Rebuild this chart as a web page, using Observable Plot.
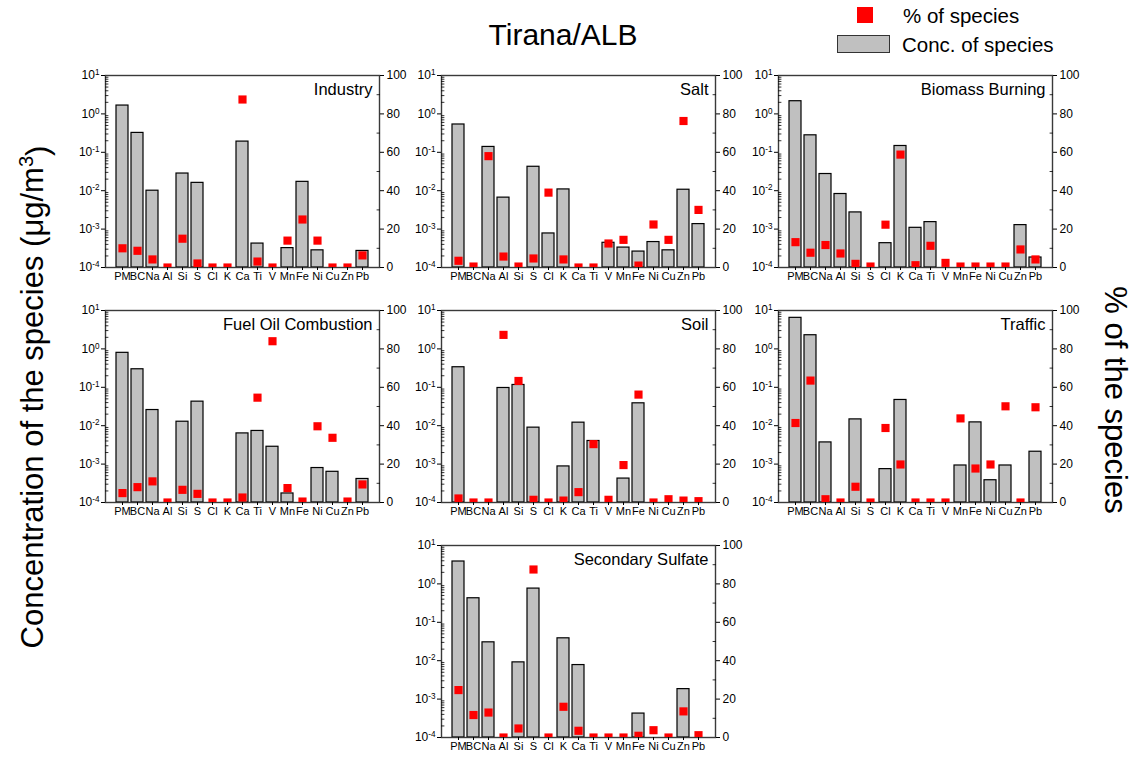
<!DOCTYPE html>
<html>
<head>
<meta charset="utf-8">
<script src="https://cdn.jsdelivr.net/npm/d3@7"></script>
<script src="https://cdn.jsdelivr.net/npm/@observablehq/plot@0.6"></script>
<style>
  body { margin: 0; background: #fff; font-family: "Liberation Sans", Arial, sans-serif; }
  #fig { position: relative; width: 1138px; height: 759px; overflow: hidden; background: #fff; }
  .layer { position: absolute; }
  .layer svg { position: absolute; left: 0; top: 0; overflow: visible; }
  #labels { position: absolute; left: 0; top: 0; }
</style>
</head>
<body>
<div id="fig"></div>
<script>
// Species measured at Tirana
const species = ["PM","BC","Na","Al","Si","S","Cl","K","Ca","Ti","V","Mn","Fe","Ni","Cu","Zn","Pb"];

// Concentration of species per factor (µg/m³); null = not resolved
const industryConc = [1.65, 0.32, 0.010, null, 0.028, 0.016, null, null, 0.19, 4.2e-4, null, 3.2e-4, 0.017, 2.8e-4, null, null, 2.7e-4];
const saltConc     = [0.53, null, 0.138, 0.0066, null, 0.042, 7.7e-4, 0.0108, null, null, 4.4e-4, 3.3e-4, 2.6e-4, 4.6e-4, 2.8e-4, 0.0106, 1.35e-3];
const biomassConc  = [2.14, 0.277, 0.0272, 0.0082, 0.00272, null, 4.3e-4, 0.146, 1.08e-3, 1.52e-3, null, null, null, null, null, 1.27e-3, 1.82e-4];
const fuelOilConc  = [0.79, 0.295, 0.0256, null, 0.0127, 0.0423, null, null, 0.0063, 0.0073, 0.00283, 1.72e-4, null, 7.9e-4, 6.3e-4, null, 4.1e-4];
const soilConc     = [0.333, null, null, 0.096, 0.115, 0.0089, null, 8.7e-4, 0.012, 0.004, null, 4.2e-4, 0.0383, null, null, null, null];
const trafficConc  = [6.44, 2.27, 0.00367, null, 0.0146, null, 7.4e-4, 0.0468, null, null, null, 9.2e-4, 0.0122, 3.8e-4, 9.2e-4, null, 0.0021];
const sulfateConc  = [3.83, 0.423, 0.0301, null, 0.00905, 0.755, null, 0.0383, 0.0077, null, null, null, 4.2e-4, null, null, 1.82e-3, null];

// Share of each species explained by the factor (%)
const industryPct = [10, 8.7, 4.2, 0, 15, 2.1, 0, 0, 87.5, 3.1, 0, 14, 25, 14, 0, 0, 6.3];
const saltPct     = [3.5, 0.5, 58, 5.7, 0.5, 4.7, 39, 4.2, 0, 0, 12.5, 14.4, 1, 22.4, 14.4, 76.3, 30];
const biomassPct  = [13.2, 7.7, 11.7, 7.3, 1.9, 0.5, 22.3, 58.8, 1.2, 11.3, 2.4, 0.5, 0.5, 0.5, 0.5, 9.4, 4.2];
const fuelOilPct  = [4.9, 8, 11, 0, 6.6, 4.5, 0, 0, 2.6, 54.6, 84, 7.5, 0.5, 39.7, 33.7, 0.5, 9.4];
const soilPct     = [2.1, 0, 0, 87.3, 63.3, 1.4, 0, 1, 5.4, 30.4, 1.4, 19.5, 56.2, 0, 1.7, 1, 0.7];
const trafficPct  = [41.4, 63.5, 1.7, 0, 8.2, 0, 38.8, 19.8, 0, 0, 0, 43.8, 17.7, 19.8, 50.1, 0, 49.6];
const sulfatePct  = [24.7, 11.7, 13, 0, 4.7, 87.5, 0, 16, 3.5, 0, 0, 0, 0.9, 3.8, 0, 13.6, 1.2];

const factorNames = ["Industry", "Salt", "Biomass Burning", "Fuel Oil Combustion", "Soil", "Traffic", "Secondary Sulfate"];

// Axis ticks
const logTicks = [1e-4, 1e-3, 1e-2, 1e-1, 1, 10];
const logMinor = logTicks.slice(0, -1).flatMap(d => d3.range(2, 10).map(k => k * d));
const pctTicks = [0, 20, 40, 60, 80, 100];
const pctMinor = [10, 30, 50, 70, 90];

const panels = [
  {title: factorNames[0], conc: industryConc, pct: industryPct, col: 0, row: 0},
  {title: factorNames[1], conc: saltConc,     pct: saltPct,     col: 1, row: 0},
  {title: factorNames[2], conc: biomassConc,  pct: biomassPct,  col: 2, row: 0},
  {title: factorNames[3], conc: fuelOilConc,  pct: fuelOilPct,  col: 0, row: 1},
  {title: factorNames[4], conc: soilConc,     pct: soilPct,     col: 1, row: 1},
  {title: factorNames[5], conc: trafficConc,  pct: trafficPct,  col: 2, row: 1},
  {title: factorNames[6], conc: sulfateConc,  pct: sulfatePct,  col: 1, row: 2}
];

// Panel geometry
const FW = 274, FH = 192;
const ML = 50, MR = 40, MT = 10, MB = 26;
const frameLeft = [104.5, 441, 777.5];
const frameTop = [75, 310, 545];
const FONT = '"Liberation Sans", Arial, sans-serif';

const fig = document.getElementById("fig");

// a short straight tick for Plot.vector
const tickShape = {draw(context, l) { context.moveTo(0, 0); context.lineTo(0, -l); }};

function expFormat(d) { return "10^" + Math.round(Math.log10(d)); }

// turns "10^e" tick labels into a base with a raised exponent
function raiseExponents(svg) {
  d3.select(svg).selectAll('g[aria-label="y-axis tick label"] text').each(function() {
    const t = this.textContent;
    if (!t.includes("^")) return;
    const [b, e] = t.split("^");
    const sel = d3.select(this);
    sel.text(null);
    sel.append("tspan").text(b);
    sel.append("tspan").attr("dy", "-0.5em").attr("font-size", "0.68em").text(e);
  });
}

for (const p of panels) {
  const rows = species.map((s, i) => ({s, c: p.conc[i], p: p.pct[i]}));
  const xOpt = {type: "band", domain: species, paddingInner: 0.17, paddingOuter: 0.6, label: null};
  const common = {
    width: ML + FW + MR, height: MT + FH + MB,
    marginLeft: ML, marginRight: MR, marginTop: MT, marginBottom: MB,
    style: {background: "transparent", overflow: "visible", fontFamily: FONT, color: "#000"}
  };

  const layer = document.createElement("div");
  layer.className = "layer";
  layer.style.left = (frameLeft[p.col] - ML) + "px";
  layer.style.top = (frameTop[p.row] - MT) + "px";
  layer.style.width = common.width + "px";
  layer.style.height = common.height + "px";

  // concentrations: bars on a log scale, left axis
  const bars = Plot.plot({
    ...common,
    x: xOpt,
    y: {type: "log", domain: [1e-4, 10], label: null},
    marks: [
      Plot.barY(rows.filter(d => d.c != null), {x: "s", y1: 1e-4, y2: "c", fill: "#c0c0c0", stroke: "#000", strokeWidth: 1.2}),
      Plot.frame({stroke: "#3a3a3a", strokeWidth: 1.4}),
      Plot.axisY(logTicks, {anchor: "left", tickSize: 4, tickPadding: 2, tickFormat: expFormat, fontSize: 12, label: null}),
      Plot.vector(logMinor, {y: d => d, frameAnchor: "left", length: 2.5, rotate: 90, anchor: "start", shape: tickShape, stroke: "#000", strokeWidth: 0.8}),
      Plot.axisX({tickSize: 3, tickPadding: 2, fontSize: 11, label: null}),
      Plot.text([p.title], {frameAnchor: "top-right", dx: -7, dy: 19, lineAnchor: "bottom", textAnchor: "end", fontSize: 16.5, fill: "#000"})
    ]
  });
  raiseExponents(bars);

  // shares: red squares on a 0-100 scale, right axis
  const dots = Plot.plot({
    ...common,
    x: {...xOpt, axis: null},
    y: {domain: [0, 100], label: null},
    marks: [
      Plot.dot(rows, {x: "s", y: "p", symbol: "square", r: 4.6, fill: "#ff0000", stroke: "none", clip: true}),
      Plot.axisY(pctTicks, {anchor: "right", tickSize: 4, tickPadding: 3, fontSize: 12, label: null}),
      Plot.vector(pctMinor, {y: d => d, frameAnchor: "right", length: 2.5, rotate: -90, anchor: "start", shape: tickShape, stroke: "#000", strokeWidth: 0.8})
    ]
  });

  layer.appendChild(bars);
  layer.appendChild(dots);
  fig.appendChild(layer);
}

// figure title, legend and shared axis titles
const svg = d3.select(fig).append("svg")
  .attr("id", "labels")
  .attr("width", 1138).attr("height", 759)
  .style("font-family", FONT)
  .style("pointer-events", "none");

svg.append("text").attr("x", 563).attr("y", 45).attr("text-anchor", "middle")
  .attr("font-size", 30).text("Tirana/ALB");

svg.append("rect").attr("x", 857).attr("y", 7).attr("width", 16).attr("height", 16).attr("fill", "#ff0000");
svg.append("text").attr("x", 903).attr("y", 23).attr("font-size", 20.5).text("% of species");
svg.append("rect").attr("x", 837.5).attr("y", 35.5).attr("width", 52).attr("height", 17)
  .attr("fill", "#c0c0c0").attr("stroke", "#333").attr("stroke-width", 1);
svg.append("text").attr("x", 902).attr("y", 52).attr("font-size", 20.5).text("Conc. of species");

const yTitle = svg.append("text").attr("transform", "translate(43,397) rotate(-90)")
  .attr("text-anchor", "middle").attr("font-size", 31);
yTitle.append("tspan").text("Concentration of the species (\u03bcg/m");
yTitle.append("tspan").attr("dy", "-0.5em").attr("font-size", "0.65em").text("3");
yTitle.append("tspan").attr("dy", "0.5em").text(")");

svg.append("text").attr("transform", "translate(1105,400) rotate(90)")
  .attr("text-anchor", "middle").attr("font-size", 31).text("% of the species");
</script>
</body>
</html>
